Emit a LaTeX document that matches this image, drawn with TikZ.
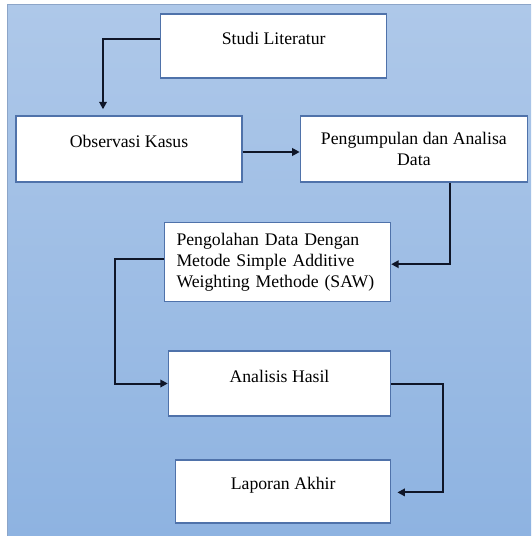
\documentclass[tikz,border=0pt]{standalone}
\usepackage{fontspec}
\setmainfont{Liberation Serif}
\usetikzlibrary{arrows.meta, positioning}
\definecolor{bgtop}{RGB}{174,200,233}
\definecolor{bgbot}{RGB}{142,179,225}
\definecolor{bgedge}{RGB}{140,165,200}
\definecolor{boxblue}{RGB}{79,114,170}
\definecolor{arrnavy}{RGB}{15,22,40}

\begin{document}
\begin{tikzpicture}[x=1pt, y=-1pt,
  box/.style     = {draw=boxblue, line width=1.4pt, fill=white, inner sep=0pt,
                    minimum width=226pt, font=\fontsize{17.7}{21}\selectfont},
  oneline/.style = {text height=12pt, text depth=15pt},
  arr/.style     = {-{Triangle[length=7.5pt, width=7.5pt]}, line width=2pt, draw=arrnavy},
]
\useasboundingbox (0,0) rectangle (531,536);
% ── Background panel ─────────────────────────────────────────────────────────
\shade[top color=bgtop, bottom color=bgbot] (7.5,4.7) rectangle (531,536);
\draw[bgedge, line width=1pt] (531,4.7) -- (7.5,4.7) -- (7.5,536);

% ── Steps ────────────────────────────────────────────────────────────────────
\node[box, oneline, minimum height=64pt] (studi) at (273.7,45.9) {Studi Literatur};
\node[box, oneline, minimum height=66pt] (obs)   at (129,149)    {Observasi Kasus};
\node[box, align=center, minimum width=227pt, minimum height=66pt,
      right=57pt of obs] (kumpul) {Pengumpulan dan Analisa\\Data};
\node[box, align=left, text width=202pt, minimum height=79pt] (olah) at (277.5,262.2)
      {Pengolahan Data Dengan\\Metode Simple Additive\\Weighting Methode (SAW)};
\node[box, oneline, minimum width=222pt, minimum height=65pt] (hasil) at (279.5,383.5) {Analisis Hasil};
\node[box, oneline, minimum width=215pt, minimum height=63pt] (lapor) at (283.2,491.4) {Laporan Akhir};

% ── Flow ─────────────────────────────────────────────────────────────────────
\draw[arr, shorten >=6pt] ([yshift=6.5pt]studi.west) -| ([xshift=-26pt]obs.north);
\draw[arr] ([yshift=-3pt]obs.east) -- ([yshift=-3pt]kumpul.west);
\draw[arr] ([xshift=36.3pt]kumpul.south) |- ([yshift=-2pt]olah.east);
\draw[arr] ([yshift=3pt]olah.west) -- ++(-49pt,0) |- (hasil.west);
\draw[arr, shorten >=6pt] (hasil.east) -- ++(52pt,0) |- ([yshift=-1pt]lapor.east);
\end{tikzpicture}
\end{document}
